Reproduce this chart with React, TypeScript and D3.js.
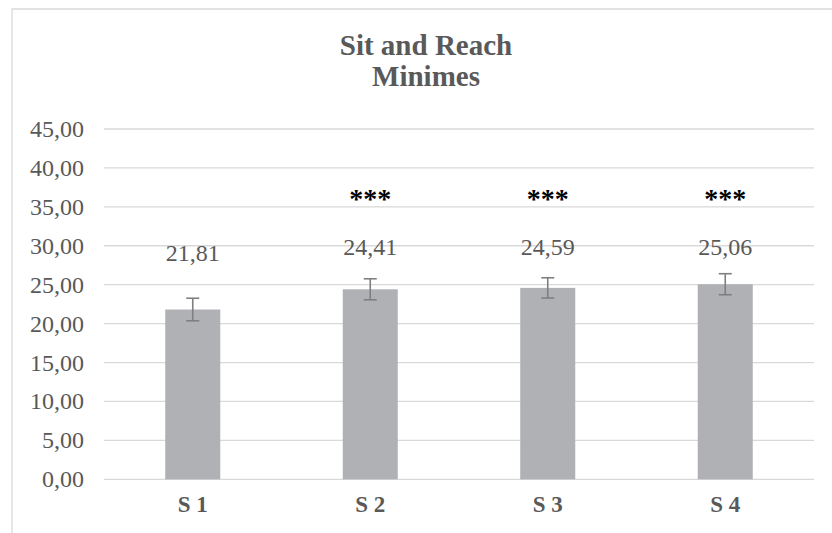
import React, { useEffect, useRef } from 'react';
import * as d3 from 'd3';

const categories = ['S 1', 'S 2', 'S 3', 'S 4'];
const means = [21.81, 24.41, 24.59, 25.06];
const errors = [1.45, 1.35, 1.3, 1.35];
const valueLabels = ['21,81', '24,41', '24,59', '25,06'];
const stars = ['', '***', '***', '***'];
const yTicks = [0, 5, 10, 15, 20, 25, 30, 35, 40, 45];

const serif = '"Liberation Serif", "Times New Roman", serif';

const App = () => {
  const ref = useRef<SVGSVGElement>(null);

  useEffect(() => {
    const width = 832,
      height = 533,
      left = 104,
      right = 814,
      top = 129,
      bottom = 479.3;

    const svg = d3.select(ref.current);
    svg.selectAll('*').remove();

    const x = d3.scaleBand().domain(categories).range([left, right]).paddingInner(0.69).paddingOuter(0.345);
    const y = d3.scaleLinear().domain([0, 45]).range([bottom, top]);

    svg.append('rect').attr('width', width).attr('height', height).attr('fill', 'white');

    // chart frame (cut off on right and bottom)
    svg
      .append('path')
      .attr('d', 'M12,' + height + 'V9H' + width)
      .attr('fill', 'none')
      .attr('stroke', '#d9d9d9')
      .attr('stroke-width', 1.3);

    // title
    const title = svg
      .append('text')
      .attr('text-anchor', 'middle')
      .attr('font-family', serif)
      .attr('font-weight', 'bold')
      .attr('font-size', 29)
      .attr('fill', '#595959');
    title.append('tspan').attr('x', 426).attr('y', 55).text('Sit and Reach');
    title.append('tspan').attr('x', 426).attr('y', 86).text('Minimes');

    // gridlines
    svg
      .append('g')
      .selectAll('line')
      .data(yTicks)
      .join('line')
      .attr('x1', left)
      .attr('x2', right)
      .attr('y1', (d) => y(d))
      .attr('y2', (d) => y(d))
      .attr('stroke', '#d9d9d9')
      .attr('stroke-width', 1.3);

    // y tick labels
    svg
      .append('g')
      .selectAll('text')
      .data(yTicks)
      .join('text')
      .attr('x', 84)
      .attr('y', (d) => y(d) + 8)
      .attr('text-anchor', 'end')
      .attr('font-family', serif)
      .attr('font-size', 24)
      .attr('fill', '#595959')
      .text((d) => d3.format('.2f')(d).replace('.', ','));

    // bars
    svg
      .append('g')
      .selectAll('rect')
      .data(means)
      .join('rect')
      .attr('x', (d, i) => x(categories[i]))
      .attr('y', (d) => y(d))
      .attr('width', x.bandwidth())
      .attr('height', (d) => bottom - y(d))
      .attr('fill', '#b0b1b4');

    // error bars
    const eb = svg.append('g').attr('stroke', '#7f7f7f').attr('stroke-width', 1.6);
    means.forEach((m, i) => {
      const cx = x(categories[i]) + x.bandwidth() / 2;
      const hi = y(m + errors[i]);
      const lo = y(m - errors[i]);
      eb.append('line').attr('x1', cx).attr('x2', cx).attr('y1', hi).attr('y2', lo);
      eb.append('line').attr('x1', cx - 6.5).attr('x2', cx + 6.5).attr('y1', hi).attr('y2', hi);
      eb.append('line').attr('x1', cx - 6.5).attr('x2', cx + 6.5).attr('y1', lo).attr('y2', lo);
    });

    // value labels (S 1 sits a little lower, as in the source)
    svg
      .append('g')
      .selectAll('text')
      .data(valueLabels)
      .join('text')
      .attr('x', (d, i) => x(categories[i]) + x.bandwidth() / 2)
      .attr('y', (d, i) => (i === 0 ? y(28.0) : y(28.8)))
      .attr('text-anchor', 'middle')
      .attr('font-family', serif)
      .attr('font-size', 24)
      .attr('fill', '#595959')
      .text((d) => d);

    // significance stars
    svg
      .append('g')
      .selectAll('text')
      .data(stars)
      .join('text')
      .attr('x', (d, i) => x(categories[i]) + x.bandwidth() / 2)
      .attr('y', y(34.8))
      .attr('text-anchor', 'middle')
      .attr('font-family', serif)
      .attr('font-weight', 'bold')
      .attr('font-size', 28)
      .attr('fill', '#000')
      .text((d) => d);

    // category labels
    svg
      .append('g')
      .selectAll('text')
      .data(categories)
      .join('text')
      .attr('x', (d) => x(d) + x.bandwidth() / 2)
      .attr('y', 512)
      .attr('text-anchor', 'middle')
      .attr('font-family', serif)
      .attr('font-weight', 'bold')
      .attr('font-size', 23)
      .attr('fill', '#595959')
      .text((d) => d);
  }, []);

  return (
    <svg
      ref={ref}
      width={832}
      height={533}
      style={{ position: 'absolute', left: 0, top: 0, display: 'block' }}
    />
  );
};

export default App;
